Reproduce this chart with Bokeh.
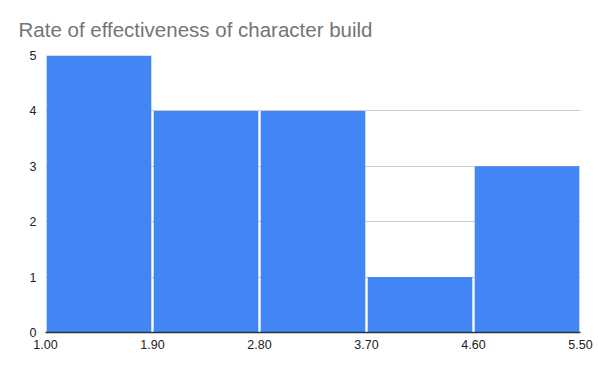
from bokeh.plotting import figure
from bokeh.models import FixedTicker, NumeralTickFormatter, Range1d, ColumnDataSource
from bokeh.embed import file_html
from bokeh.resources import INLINE

title = "Rate of effectiveness of character build"
bin_edges = [1.00, 1.90, 2.80, 3.70, 4.60, 5.50]
counts = [5, 4, 4, 1, 3]
y_ticks = [0, 1, 2, 3, 4, 5]

gap = 0.010
src = ColumnDataSource(dict(
    left=[e + gap for e in bin_edges[:-1]],
    right=[e - gap for e in bin_edges[1:]],
    top=counts,
    bottom=[0] * len(counts),
))

p = figure(width=598, height=366, output_backend="svg", toolbar_location=None,
           x_range=Range1d(bin_edges[0], bin_edges[-1]), y_range=Range1d(0, 5),
           min_border_left=45, min_border_right=18, min_border_bottom=34, min_border_top=55)

p.title.text = title
p.title.text_font = "Liberation Sans"
p.title.text_font_size = "20.5px"
p.title.text_font_style = "normal"
p.title.text_color = "#757575"
p.title.offset = -27
p.title.standoff = 30

p.quad(left="left", right="right", top="top", bottom="bottom", source=src,
       fill_color="#4285F4", line_color=None)

p.xaxis.ticker = FixedTicker(ticks=bin_edges)
p.xaxis.formatter = NumeralTickFormatter(format="0.00")
p.yaxis.ticker = FixedTicker(ticks=y_ticks)
for ax in (p.xaxis[0], p.yaxis[0]):
    ax.major_tick_line_color = None
    ax.minor_tick_line_color = None
    ax.major_label_text_font = "Liberation Sans"
    ax.major_label_text_font_size = "12.5px"
    ax.major_label_text_color = "#222222"
p.xaxis.axis_line_color = "#333333"
p.xaxis.axis_line_width = 1.5
p.xaxis.major_label_standoff = 1
p.yaxis.axis_line_color = None
p.yaxis.major_label_standoff = 3

p.xgrid.grid_line_color = None
p.ygrid.grid_line_color = "#cccccc"
p.ygrid.ticker = FixedTicker(ticks=y_ticks)
p.outline_line_color = None
p.background_fill_color = "white"
p.border_fill_color = "white"

open("out.html", "w").write(file_html(p, INLINE))
